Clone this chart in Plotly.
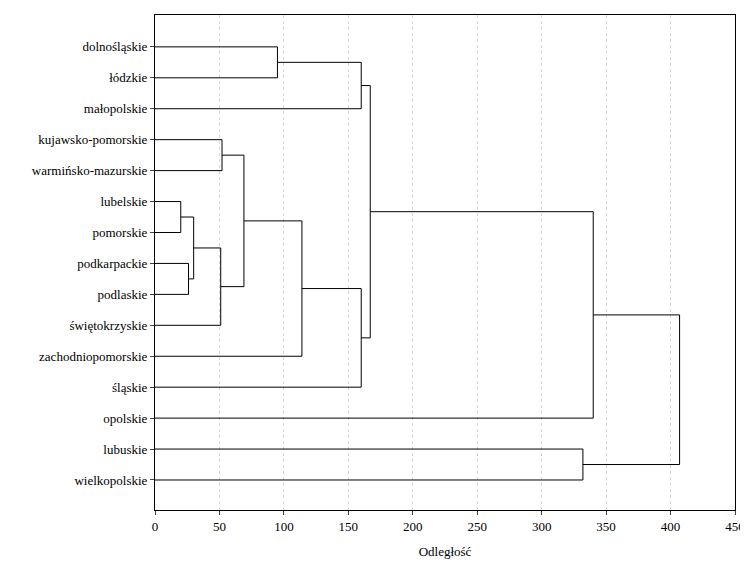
import plotly.graph_objects as go

leaves = ["dolnośląskie", "łódzkie", "małopolskie", "kujawsko-pomorskie",
          "warmińsko-mazurskie", "lubelskie", "pomorskie", "podkarpackie",
          "podlaskie", "świętokrzyskie", "zachodniopomorskie", "śląskie",
          "opolskie", "lubuskie", "wielkopolskie"]

# merges: (left, right, distance); names refer to leaves or earlier clusters "c<i>"
merge_left = ["dolnośląskie", "c0", "lubelskie", "podkarpackie", "c2", "c4",
              "kujawsko-pomorskie", "c6", "c7", "c8", "c1", "c10", "lubuskie", "c11"]
merge_right = ["łódzkie", "małopolskie", "pomorskie", "podlaskie", "c3",
               "świętokrzyskie", "warmińsko-mazurskie", "c5", "zachodniopomorskie",
               "śląskie", "c9", "opolskie", "wielkopolskie", "c12"]
merge_dist = [95, 160, 20, 26, 30, 51, 52, 69, 114, 160, 167, 340, 332, 407]

pos = {name: (0.0, float(i)) for i, name in enumerate(leaves)}
xs, ys = [], []
for i, (a, b, d) in enumerate(zip(merge_left, merge_right, merge_dist)):
    xa, ya = pos[a]
    xb, yb = pos[b]
    xs += [xa, d, d, xb, None]
    ys += [ya, ya, yb, yb, None]
    pos["c%d" % i] = (d, (ya + yb) / 2)

fig = go.Figure()
fig.add_trace(go.Scatter(x=xs, y=ys, mode="lines",
                         line=dict(color="black", width=1), hoverinfo="skip"))

# page body has an 8px margin, so the figure is a bit smaller than the window
fig.update_layout(
    width=740, height=554, showlegend=False,
    plot_bgcolor="white", paper_bgcolor="white",
    margin=dict(l=147, r=13, t=7, b=52),
    font=dict(family="Liberation Serif, Times New Roman, serif", size=13, color="black"),
    xaxis=dict(range=[0, 450], dtick=50, showgrid=True, gridcolor="#d8d8d8",
               griddash="dot", gridwidth=1, zeroline=False, showline=True,
               linecolor="black", mirror=True, ticks="outside", ticklen=4,
               automargin=False,
               title=dict(text="Odległość", standoff=14, font=dict(size=13))),
    yaxis=dict(range=[14.97, -1.03], tickvals=list(range(len(leaves))),
               ticktext=leaves, showgrid=False, zeroline=False, showline=True,
               linecolor="black", mirror=True, ticks="outside", ticklen=4,
               automargin=False),
)
fig.write_html("out.html")
